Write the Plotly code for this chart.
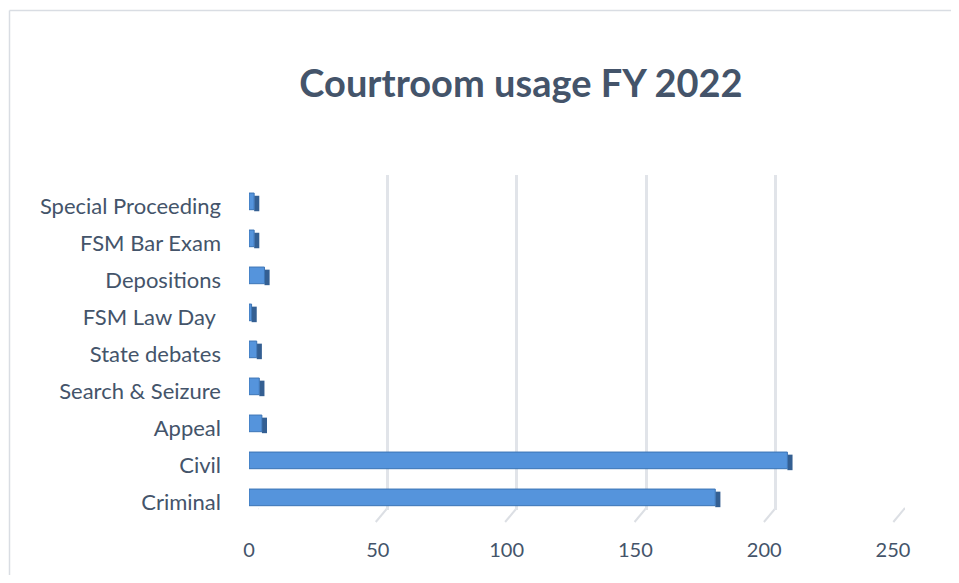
import plotly.graph_objects as go

categories = ["Criminal", "Civil", "Appeal", "Search & Seizure", "State debates",
              "FSM Law Day ", "Depositions", "FSM Bar Exam", "Special Proceeding"]
values = [181, 209, 5, 4, 3, 1, 6, 2, 2]
x_ticks = [0, 50, 100, 150, 200, 250]

# page body has an 8px margin; figure sized so the page fits the 959x583 window
OFF = 8
W, H = 959 - 2 * OFF, 583 - 2 * OFF
TXT = "#44546A"
FONT = "Lato"
DEPTH = 2.0  # visual depth of the 3D side face, in axis units

def fx(px):
    return (px - OFF) / W

def fy(py):
    return (H - (py - OFF)) / H

fig = go.Figure()

fig.add_trace(go.Scatter(x=[0, 250], y=[0, 1], mode="markers", marker=dict(opacity=0),
                         hoverinfo="skip", showlegend=False, xaxis="x", yaxis="y"))
fig.add_trace(go.Bar(y=categories, x=[DEPTH] * len(values), base=values, orientation="h",
                     width=0.42, offset=-0.14,
                     marker=dict(color="#345F92", line=dict(width=0)),
                     hoverinfo="skip", showlegend=False, xaxis="x2", yaxis="y2"))
fig.add_trace(go.Bar(y=categories, x=values, orientation="h", width=0.45, offset=-0.1,
                     marker=dict(color="#5594DC", line=dict(color="#3B74B5", width=1)),
                     showlegend=False, xaxis="x2", yaxis="y2"))

FR = dict(color="#D9DDE3", width=1.5)
shapes = [
    dict(type="line", xref="paper", yref="paper", x0=fx(9.5), x1=fx(9.5), y0=0, y1=fy(10.5), line=FR, layer="below"),
    dict(type="line", xref="paper", yref="paper", x0=fx(9.5), x1=1, y0=fy(10.5), y1=fy(10.5), line=FR, layer="below"),
    dict(type="line", xref="x2", yref="paper", x0=-2, x1=-2, y0=fy(522), y1=fy(184),
         line=dict(color="#DCDFE4", width=3), layer="below"),
]
for v in x_ticks:
    shapes.append(dict(type="line", xref="x", yref="paper", x0=v - 4.5, x1=v,
                       y0=fy(522), y1=fy(508), line=dict(color="#DCDFE4", width=2), layer="below"))

fig.update_layout(
    width=W, height=H,
    margin=dict(l=0, r=0, t=0, b=0, autoexpand=False),
    paper_bgcolor="white", plot_bgcolor="rgba(0,0,0,0)",
    barmode="overlay",
    title=dict(text="<b>Courtroom usage FY 2022</b>", x=fx(521), y=fy(84), xref="paper", yref="paper",
               xanchor="center", yanchor="middle", font=dict(family=FONT, size=38, color=TXT)),
    xaxis=dict(domain=[fx(258), fx(905)], range=[0, 250], anchor="y", automargin=False,
               showgrid=True, gridcolor="#E1E4E9", gridwidth=3, tickvals=x_ticks,
               showticklabels=False, zeroline=False, showline=False, ticks=""),
    yaxis=dict(domain=[fy(510), fy(175)], range=[0, 1], anchor="x", automargin=False,
               showgrid=False, showticklabels=False, zeroline=False, showline=False),
    xaxis2=dict(domain=[fx(249), fx(893)], range=[0, 250], anchor="y2", automargin=False,
                showgrid=False, zeroline=False, showline=False, tickvals=x_ticks,
                ticks="", ticklabelstandoff=15,
                tickfont=dict(family=FONT, size=20, color=TXT)),
    yaxis2=dict(domain=[fy(520.5), fy(187.5)], range=[-0.5, 8.5], anchor="x2", automargin=False,
                categoryorder="array", categoryarray=categories,
                showgrid=False, zeroline=False, showline=False, ticks="",
                ticklabelstandoff=27,
                tickfont=dict(family=FONT, size=22, color=TXT)),
    shapes=shapes,
)

fig.write_html("out.html")
